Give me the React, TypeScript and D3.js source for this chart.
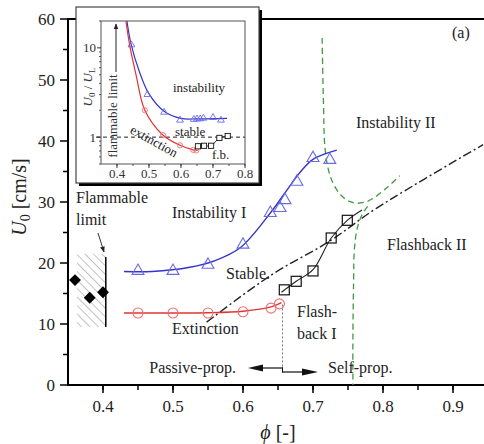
import React from "react";
import * as d3 from "d3";

// ---------- Main chart data ----------
const xTicks = [0.4, 0.5, 0.6, 0.7, 0.8, 0.9];
const yTicks = [0, 10, 20, 30, 40, 50, 60];

const instabTri: [number, number][] = [
  [0.45, 18.7], [0.5, 18.7], [0.55, 19.7], [0.6, 23.0], [0.639, 28.2],
  [0.653, 29.0], [0.66, 30.3], [0.677, 33.3], [0.7, 37.2], [0.724, 36.9],
];
const instabFit: [number, number][] = [
  [0.43, 18.6], [0.47, 18.6], [0.524, 19.3], [0.56, 20.4], [0.596, 22.5],
  [0.639, 28.2], [0.663, 32.0], [0.681, 34.8], [0.7, 37.0], [0.734, 38.5],
];
const extCirc: [number, number][] = [
  [0.45, 11.8], [0.5, 11.8], [0.55, 11.8], [0.6, 12.0], [0.64, 12.6], [0.652, 13.3],
];
const extFit: [number, number][] = [
  [0.43, 11.8], [0.5, 11.8], [0.55, 11.85], [0.6, 12.1], [0.64, 12.8], [0.655, 13.5],
];
const fbSq: [number, number][] = [
  [0.659, 15.6], [0.676, 17.0], [0.7, 18.7], [0.726, 24.1], [0.749, 27.0],
];
const fbFit: [number, number][] = [
  [0.655, 15.2], [0.676, 17.0], [0.7, 18.9], [0.726, 24.1], [0.749, 27.0], [0.77, 28.7],
];
const dashDot: [number, number][] = [
  [0.548, 10.3], [0.64, 18.0], [0.724, 23.6], [0.791, 29.0], [0.943, 39.4],
];
const greenUpper: [number, number][] = [
  [0.713, 56.9], [0.715, 46], [0.717, 39], [0.722, 35.3], [0.729, 33.0],
  [0.74, 31.1], [0.752, 30.1], [0.763, 29.8], [0.775, 30.0], [0.786, 30.6],
  [0.805, 32.3], [0.824, 34.3],
];
const greenLower: [number, number][] = [
  [0.778, 29.3], [0.77, 27.9], [0.763, 25.6], [0.759, 22.0], [0.758, 17.0],
  [0.757, 8.0], [0.757, 0],
];
const flamDiamonds: [number, number][] = [[0.36, 17.2], [0.381, 14.3], [0.4, 15.2]];

// ---------- Inset data ----------
const insetXTicks = [0.4, 0.5, 0.6, 0.7, 0.8];
const insetYTicks = [1, 10];
const insetTri: [number, number][] = [
  [0.445, 10.8], [0.495, 3.0], [0.547, 1.9], [0.597, 1.55], [0.64, 1.58], [0.65, 1.6],
  [0.66, 1.6], [0.67, 1.63], [0.7, 1.66], [0.725, 1.55],
];
const insetBlueFit: [number, number][] = [
  [0.431, 20], [0.444, 11], [0.47, 5.4], [0.5, 3.05], [0.547, 1.95],
  [0.6, 1.62], [0.65, 1.6], [0.744, 1.62],
];
const insetCirc: [number, number][] = [
  [0.487, 2.0], [0.544, 1.05], [0.597, 0.81], [0.638, 0.72], [0.648, 0.71],
];
const insetRedFit: [number, number][] = [
  [0.428, 20], [0.44, 10.5], [0.46, 4.9], [0.487, 2.0], [0.544, 1.05],
  [0.597, 0.81], [0.638, 0.72], [0.652, 0.71],
];
const insetSq: [number, number][] = [
  [0.653, 0.79], [0.672, 0.8], [0.694, 0.8], [0.72, 0.98], [0.746, 1.03],
];

const FONT = '"Liberation Serif", "Times New Roman", Tinos, "DejaVu Serif", serif';

export default function App() {
  const x = d3.scaleLinear().domain([0.35, 0.95]).range([68, 488]);
  const y = d3.scaleLinear().domain([0, 60]).range([385, 19]);
  const xi = d3.scaleLinear().domain([0.35, 0.8]).range([101, 245]);
  const yi = d3.scaleLog().domain([0.5, 20]).range([164, 21]);

  const line = d3
    .line<[number, number]>()
    .x((d) => x(d[0]))
    .y((d) => y(d[1]))
    .curve(d3.curveCatmullRom.alpha(0.5));
  const lineI = d3
    .line<[number, number]>()
    .x((d) => xi(d[0]))
    .y((d) => yi(d[1]))
    .curve(d3.curveCatmullRom.alpha(0.5));

  const tri = d3.symbol().type(d3.symbolTriangle).size(62)()!;
  const triS = d3.symbol().type(d3.symbolTriangle).size(20)()!;

  const xMinor = d3.range(0.4, 0.951, 0.05);
  const yMinor = d3.range(5, 60, 5);
  const insetYMinor = [0.5, 0.6, 0.7, 0.8, 0.9, 2, 3, 4, 5, 6, 7, 8, 9, 20];
  const insetXMinor = d3.range(0.4, 0.801, 0.05);

  const blue = "#3434c8";
  const blueM = "#6a6ae6";
  const red = "#e03434";
  const redM = "#ee7070";
  const green = "#3f9a3f";

  const pa = 0.655;
  const px = Math.round(x(pa));
  const ay1 = 368;
  const ay2 = 372;

  return (
    <svg
      width={484}
      height={444}
      style={{ position: "absolute", left: 0, top: 0, background: "#fff", fontFamily: FONT }}
    >
      <defs>
        <pattern id="hatch" width="6" height="6" patternUnits="userSpaceOnUse" patternTransform="rotate(-45)">
          <line x1="0" y1="0" x2="0" y2="6" stroke="#888" strokeWidth="1" />
        </pattern>
        <marker id="ah" viewBox="0 0 10 10" refX="9" refY="5" markerWidth="6" markerHeight="6" orient="auto">
          <path d="M0,1 L10,5 L0,9 z" fill="#222" />
        </marker>
        <clipPath id="plotclip">
          <rect x={68} y={19} width={420} height={366} />
        </clipPath>
      </defs>

      {/* frame */}
      <line x1={68} x2={488} y1={19} y2={19} stroke="#000" strokeWidth={2} />
      <line x1={68} x2={68} y1={18} y2={386} stroke="#000" strokeWidth={2} />
      <line x1={67} x2={488} y1={385} y2={385} stroke="#000" strokeWidth={2} />

      {/* y ticks */}
      {yTicks.map((t) => (
        <g key={"yt" + t}>
          <line x1={60} x2={68} y1={y(t)} y2={y(t)} stroke="#000" strokeWidth={1.5} />
          <text x={55} y={y(t) + 6} textAnchor="end" fontSize={17} fill="#222">
            {t}
          </text>
        </g>
      ))}
      {yMinor.filter((v) => v % 10 !== 0).map((t) => (
        <line key={"ym" + t} x1={63} x2={68} y1={y(t)} y2={y(t)} stroke="#000" strokeWidth={1.5} />
      ))}
      {/* x ticks */}
      {xTicks.map((t) => (
        <g key={"xt" + t}>
          <line x1={x(t)} x2={x(t)} y1={385} y2={393} stroke="#000" strokeWidth={1.5} />
          <text x={x(t)} y={412} textAnchor="middle" fontSize={17} fill="#222">
            {t.toFixed(1)}
          </text>
        </g>
      ))}
      {xMinor.map((t) => (
        <line key={"xm" + t} x1={x(t)} x2={x(t)} y1={385} y2={390} stroke="#000" strokeWidth={1.5} />
      ))}

      {/* axis labels */}
      <text x={278} y={439} textAnchor="middle" fontSize={20} fill="#222">
        <tspan fontStyle="italic">ϕ</tspan> [-]
      </text>
      <text transform="translate(26,197) rotate(-90)" textAnchor="middle" fontSize={20} fill="#222">
        <tspan fontStyle="italic">U</tspan>
        <tspan fontSize={14} dy={4}>0</tspan>
        <tspan dy={-4}> [cm/s]</tspan>
      </text>

      <g clipPath="url(#plotclip)">
        {/* hatched flammable limit */}
        <rect x={x(0.363)} y={y(21.5)} width={x(0.404) - x(0.363)} height={y(9.5) - y(21.5)} fill="url(#hatch)" />
        <line x1={x(0.404)} x2={x(0.404)} y1={y(21.0)} y2={y(9.5)} stroke="#000" strokeWidth={1.5} />
        <line x1={98} y1={233} x2={104} y2={252} stroke="#333" strokeWidth={1} markerEnd="url(#ah)" />
        {flamDiamonds.map((d, i) => (
          <rect
            key={"dm" + i}
            x={-4.2}
            y={-4.2}
            width={8.4}
            height={8.4}
            fill="#000"
            transform={`translate(${x(d[0])},${y(d[1])}) rotate(45)`}
          />
        ))}

        {/* dash-dot line */}
        <path d={line(dashDot)!} fill="none" stroke="#222" strokeWidth={1.4} strokeDasharray="9,3,2,3" />

        {/* green dashed */}
        <path d={line(greenUpper)!} fill="none" stroke={green} strokeWidth={1.3} strokeDasharray="6,4" />
        <path d={line(greenLower)!} fill="none" stroke={green} strokeWidth={1.3} strokeDasharray="6,4" />

        {/* instability I */}
        <path d={line(instabFit)!} fill="none" stroke={blue} strokeWidth={1.4} />
        {instabTri.map((d, i) => (
          <path key={"tr" + i} d={tri} transform={`translate(${x(d[0])},${y(d[1])})`} fill="none" stroke={blueM} strokeWidth={1.1} />
        ))}

        {/* extinction */}
        <path d={line(extFit)!} fill="none" stroke={red} strokeWidth={1.4} />
        {extCirc.map((d, i) => (
          <circle key={"ci" + i} cx={x(d[0])} cy={y(d[1])} r={5} fill="none" stroke={redM} strokeWidth={1.1} />
        ))}

        {/* flashback I */}
        <path d={line(fbFit)!} fill="none" stroke="#222" strokeWidth={1.1} />
        {fbSq.map((d, i) => (
          <rect key={"sq" + i} x={x(d[0]) - 5} y={y(d[1]) - 5} width={10} height={10} fill="none" stroke="#111" strokeWidth={1.2} />
        ))}

        {/* propagation divider (dotted) */}
        <line x1={px + 0.5} x2={px + 0.5} y1={y(13.2)} y2={ay1} stroke="#777" strokeWidth={1} strokeDasharray="2,2" />
      </g>

      {/* propagation arrows drawn as filled shapes */}
      <rect x={px} y={ay1 - 0.5} width={1} height={ay2 - ay1 + 1} fill="#111" />
      <rect x={258} y={ay1 - 0.6} width={px + 1 - 258} height={1.2} fill="#111" />
      <polygon points={`248,${ay1} 263,${ay1 - 3.5} 263,${ay1 + 3.5}`} fill="#111" />
      <rect x={px} y={ay2 - 0.6} width={305 - px} height={1.2} fill="#111" />
      <polygon points={`318,${ay2} 302,${ay2 - 3.5} 302,${ay2 + 3.5}`} fill="#111" />

      {/* region labels */}
      <g fontSize={16} fill="#222">
        <text x={76} y={203}>Flammable</text>
        <text x={76} y={225}>limit</text>
        <text x={172} y={218}>Instability I</text>
        <text x={226} y={279}>Stable.</text>
        <text x={172} y={334}>Extinction</text>
        <text x={297} y={317}>Flash-</text>
        <text x={297} y={339}>back I</text>
        <text x={356} y={128}>Instability II</text>
        <text x={387} y={250}>Flashback II</text>
        <text x={236} y={373} textAnchor="end">Passive-prop.</text>
        <text x={328} y={373}>Self-prop.</text>
        <text x={452} y={38}>(a)</text>
      </g>

      {/* ---------- inset ---------- */}
      <rect x={79} y={10} width={183} height={176} fill="#000" />
      <rect x={76} y={7} width={183} height={176} fill="#fff" stroke="#444" strokeWidth={1.2} />
      <rect x={101} y={21} width={144} height={143} fill="none" stroke="#555" strokeWidth={1} />

      {insetYTicks.map((t) => (
        <g key={"iyt" + t}>
          <line x1={97} x2={101} y1={yi(t)} y2={yi(t)} stroke="#333" strokeWidth={1} />
          <text x={96} y={yi(t) + 4.5} textAnchor="end" fontSize={13} fill="#333">
            {t}
          </text>
        </g>
      ))}
      {insetYMinor.map((t) => (
        <line key={"iym" + t} x1={99} x2={101} y1={yi(t)} y2={yi(t)} stroke="#333" strokeWidth={0.8} />
      ))}
      {insetXTicks.map((t) => (
        <g key={"ixt" + t}>
          <line x1={xi(t)} x2={xi(t)} y1={164} y2={168} stroke="#333" strokeWidth={1} />
          <text x={xi(t)} y={178} textAnchor="middle" fontSize={13} fill="#333">
            {t.toFixed(1)}
          </text>
        </g>
      ))}
      {insetXMinor.map((t) => (
        <line key={"ixm" + t} x1={xi(t)} x2={xi(t)} y1={164} y2={166} stroke="#333" strokeWidth={0.8} />
      ))}

      <text transform="translate(92,87) rotate(-90)" textAnchor="middle" fontSize={13} fill="#333">
        <tspan fontStyle="italic">U</tspan>
        <tspan fontSize={9} dy={3}>0</tspan>
        <tspan dy={-3}> / </tspan>
        <tspan fontStyle="italic">U</tspan>
        <tspan fontSize={9} dy={3}>L</tspan>
      </text>
      <text transform="translate(117,116) rotate(-90)" textAnchor="middle" fontSize={13} fill="#333">
        flammable limit
      </text>
      <line x1={116} x2={116} y1={72} y2={24} stroke="#222" strokeWidth={1} markerEnd="url(#ah)" />

      <line x1={96} x2={245} y1={yi(1)} y2={yi(1)} stroke="#222" strokeWidth={1} strokeDasharray="4,3" />

      <path d={lineI(insetBlueFit)!} fill="none" stroke={blue} strokeWidth={1.2} />
      {insetTri.map((d, i) => (
        <path key={"itr" + i} d={triS} transform={`translate(${xi(d[0])},${yi(d[1])})`} fill="none" stroke={blueM} strokeWidth={0.9} />
      ))}
      <path d={lineI(insetRedFit)!} fill="none" stroke={red} strokeWidth={1.2} />
      {insetCirc.map((d, i) => (
        <circle key={"ic" + i} cx={xi(d[0])} cy={yi(d[1])} r={2.6} fill="none" stroke={redM} strokeWidth={0.9} />
      ))}
      <path d={lineI(insetSq)!} fill="none" stroke="#222" strokeWidth={0.9} />
      {insetSq.map((d, i) => (
        <rect key={"isq" + i} x={xi(d[0]) - 2.6} y={yi(d[1]) - 2.6} width={5.2} height={5.2} fill="#fff" stroke="#111" strokeWidth={0.9} />
      ))}

      <g fontSize={13} fill="#222">
        <text x={173} y={92}>instability</text>
        <text x={175} y={136}>stable</text>
        <text transform="translate(152,145) rotate(29)" textAnchor="middle">extinction</text>
        <text x={212} y={159}>f.b.</text>
      </g>
    </svg>
  );
}
